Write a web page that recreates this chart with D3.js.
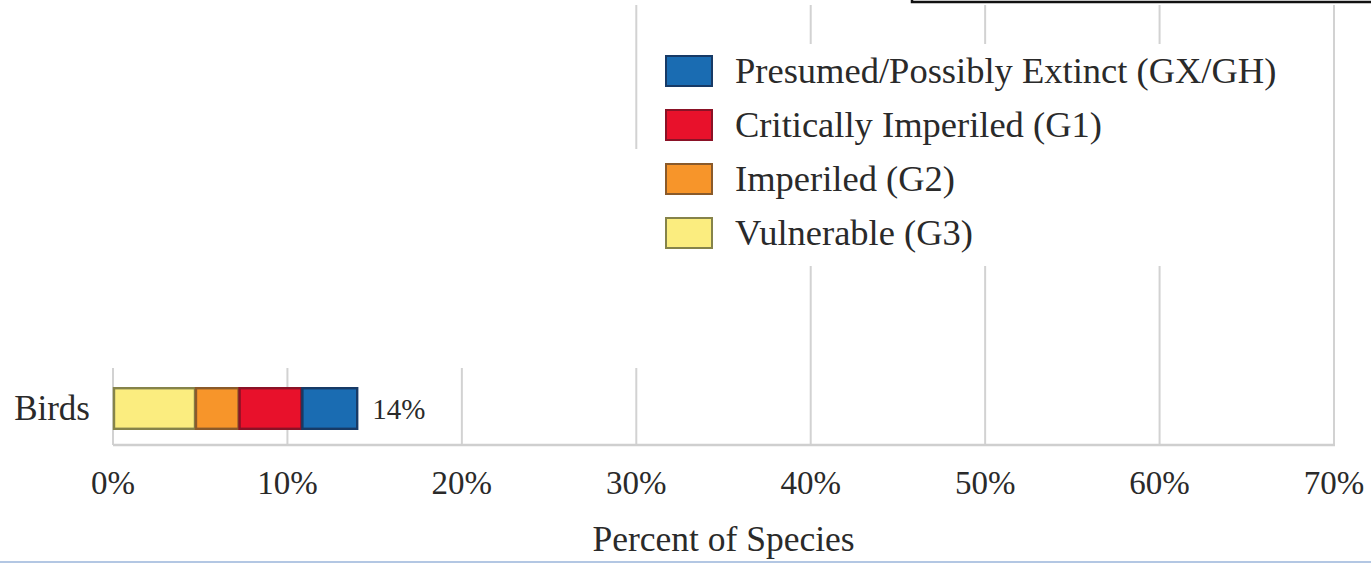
<!DOCTYPE html>
<html>
<head>
<meta charset="utf-8">
<script src="https://cdn.jsdelivr.net/npm/d3@7"></script>
<style>
  html, body { margin: 0; padding: 0; background: #fff; }
  svg { display: block; }
  text { font-family: "Liberation Serif", "DejaVu Serif", serif; fill: #2a2a2a; }
</style>
</head>
<body>
<svg id="chart" width="1371" height="563"></svg>
<script>
// Share of bird species in each conservation-status rank (percent)
const categories = ["Birds"];
const statusKeys = ["G3", "G2", "G1", "GX"];
const statusLabels = {
  GX: "Presumed/Possibly Extinct (GX/GH)",
  G1: "Critically Imperiled (G1)",
  G2: "Imperiled (G2)",
  G3: "Vulnerable (G3)"
};
const g3Values = [4.7];
const g2Values = [2.5];
const g1Values = [3.6];
const gxValues = [3.2];
const totalLabels = ["14%"];
const tickValues = [0, 10, 20, 30, 40, 50, 60, 70];
const legendOrder = ["GX", "G1", "G2", "G3"];

const fills   = { G3: "#fbed7f", G2: "#f7952a", G1: "#e8112b", GX: "#1a6cb2" };
const strokes = { G3: "#85834a", G2: "#8a5a2a", G1: "#8a1226", GX: "#173a66" };

const rows = categories.map((c, i) => ({
  category: c, G3: g3Values[i], G2: g2Values[i], G1: g1Values[i], GX: gxValues[i], label: totalLabels[i]
}));

const svg = d3.select("#chart");
const W = 1371, H = 563;

const x = d3.scaleLinear().domain([0, 70]).range([113, 1334]);
const y = d3.scaleBand().domain(categories).range([373, 444]).padding(0.25);
const axisY = 445;

// vertical gridlines
svg.append("g").selectAll("line").data(tickValues).join("line")
  .attr("x1", d => x(d)).attr("x2", d => x(d))
  .attr("y1", 5).attr("y2", axisY)
  .attr("stroke", "#d2d2d2").attr("stroke-width", 2);

// blank panels laid over the upper gridlines
svg.append("rect").attr("x", 0).attr("y", 0).attr("width", 628).attr("height", 368).attr("fill", "#fff");
svg.append("rect").attr("x", 0).attr("y", 149).attr("width", 652).attr("height", 219).attr("fill", "#fff");

// baseline
svg.append("line")
  .attr("x1", x(0)).attr("x2", x(70) + 1)
  .attr("y1", axisY).attr("y2", axisY)
  .attr("stroke", "#cfcfcf").attr("stroke-width", 2.5);

// tick labels
svg.append("g").selectAll("text").data(tickValues).join("text")
  .attr("x", d => x(d)).attr("y", 494)
  .attr("text-anchor", "middle")
  .attr("font-size", 33)
  .text(d => d + "%");

// axis title
svg.append("text")
  .attr("x", (x(0) + x(70)) / 2).attr("y", 551)
  .attr("text-anchor", "middle")
  .attr("font-size", 35.5)
  .text("Percent of Species");

// stacked bars
const stack = d3.stack().keys(statusKeys)(rows);
svg.append("g").selectAll("g").data(stack).join("g")
  .selectAll("rect").data(s => s.map(p => ({ key: s.key, p }))).join("rect")
  .attr("x", d => x(d.p[0]) + 1)
  .attr("y", d => y(d.p.data.category) + 1)
  .attr("width", d => x(d.p[1]) - x(d.p[0]) - 1)
  .attr("height", y.bandwidth() - 2)
  .attr("fill", d => fills[d.key])
  .attr("stroke", d => strokes[d.key])
  .attr("stroke-width", 2.4);

// category labels
svg.append("g").selectAll("text").data(rows).join("text")
  .attr("x", 90).attr("y", d => y(d.category) + y.bandwidth() / 2 + 11)
  .attr("text-anchor", "end")
  .attr("font-size", 35)
  .text(d => d.category);

// total labels
svg.append("g").selectAll("text").data(rows).join("text")
  .attr("x", d => x(d.G3 + d.G2 + d.G1 + d.GX) + 15)
  .attr("y", d => y(d.category) + y.bandwidth() / 2 + 10)
  .attr("font-size", 29)
  .text(d => d.label);

// legend
const legend = svg.append("g");
legend.append("rect").attr("x", 640).attr("y", 44).attr("width", 652).attr("height", 222).attr("fill", "#fff");
const item = legend.selectAll("g").data(legendOrder).join("g")
  .attr("transform", (d, i) => `translate(666, ${56 + i * 54})`);
item.append("rect")
  .attr("width", 46).attr("height", 30)
  .attr("fill", d => fills[d])
  .attr("stroke", d => strokes[d]).attr("stroke-width", 2);
item.append("text")
  .attr("x", 69).attr("y", 27)
  .attr("font-size", 36.5)
  .text(d => statusLabels[d]);

// frame edge along the top right
svg.append("rect").attr("x", 912).attr("y", -20).attr("width", 480).attr("height", 22)
  .attr("fill", "none").attr("stroke", "#111").attr("stroke-width", 2.5);

// thin rule along the bottom edge
svg.append("rect").attr("x", 0).attr("y", H - 2).attr("width", W).attr("height", 2).attr("fill", "#b3c7e3");
</script>
</body>
</html>
